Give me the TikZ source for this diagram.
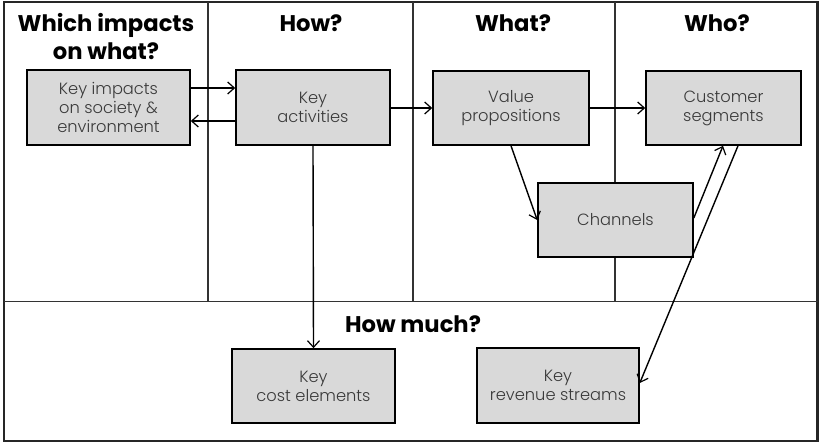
\documentclass[tikz,border=0pt]{standalone}
\usepackage{fontspec}
\setmainfont{Poppins}
\newfontfamily\lightfont{Poppins}[UprightFont=* Light]
\usetikzlibrary{arrows.meta}
\definecolor{boxfill}{HTML}{D9D9D9}
\definecolor{boxtext}{HTML}{3A3A3A}
\begin{document}
\begin{tikzpicture}[x=0.75pt,y=-0.75pt,
  frame/.style={draw=black!85,line width=1.6pt},
  divider/.style={draw=black!80,line width=0.9pt},
  blockbox/.style={draw=black,line width=1.2pt,fill=boxfill,inner sep=0pt,
    text=boxtext,font=\lightfont\fontsize{12.2}{14.3}\selectfont,align=center},
  heading/.style={font=\fontsize{17}{21}\selectfont\bfseries,align=center,inner sep=0pt},
  conn/.style={draw=black,line width=1.05pt,-{Straight Barb[length=5pt,width=9pt,line width=0.9pt]}}
]
\useasboundingbox (0,0) rectangle (819,443);
\fill[white] (0,0) rectangle (819,443);
% grid
\draw[frame] (4,1.8) rectangle (817.5,441);
\draw[divider] (4,301.5) -- (817.5,301.5);
\draw[divider] (208,1.8) -- (208,301.5);
\draw[divider] (413,1.8) -- (413,301.5);
\draw[divider] (615,1.8) -- (615,301.5);
% headings
\node[heading] (h1) at (106,37) {Which impacts\\on what?};
\node[heading] (h2) at (311,23) {How?};
\node[heading] (h3) at (513,23) {What?};
\node[heading] (h4) at (717,23) {Who?};
\node[heading] (h5) at (413,324) {How much?};
% boxes
\node[blockbox, minimum width=122.25pt, minimum height=56.25pt] (imp) at (108.5,107.5) {Key impacts\\on society \&\\environment};
\node[blockbox, minimum width=115.5pt, minimum height=56.25pt] (act) at (313,107.5) {Key\\activities};
\node[blockbox, minimum width=117pt, minimum height=55.5pt] (val) at (511,108) {Value\\propositions};
\node[blockbox, minimum width=116.25pt, minimum height=55.5pt] (cus) at (723.5,108) {Customer\\segments};
\node[blockbox, minimum width=116.25pt, minimum height=55.5pt] (chn) at (615.5,220) {Channels};
\node[blockbox, minimum width=122.25pt, minimum height=55.5pt] (cost) at (313.5,386) {Key\\cost elements};
\node[blockbox, minimum width=121.5pt, minimum height=56.25pt] (rev) at (558,385.5) {Key\\revenue streams};
% connectors
\draw[conn] (imp.east |- 0,88) -- (act.west |- 0,88);
\draw[conn] (act.west |- 0,121) -- (imp.east |- 0,121);
\draw[conn] (act.east |- 0,108) -- (val.west |- 0,108);
\draw[conn] (val.east) -- (cus.west);
\draw[conn] (act.south) -- (cost.north);
\draw[conn] (val.south) -- (chn.west);
\draw[conn] (chn.east |- 0,218) -- (cus.south -| 723,0);
\draw[conn] (cus.south -| 738,0) -- (rev.east |- 0,383);
\end{tikzpicture}
\end{document}
